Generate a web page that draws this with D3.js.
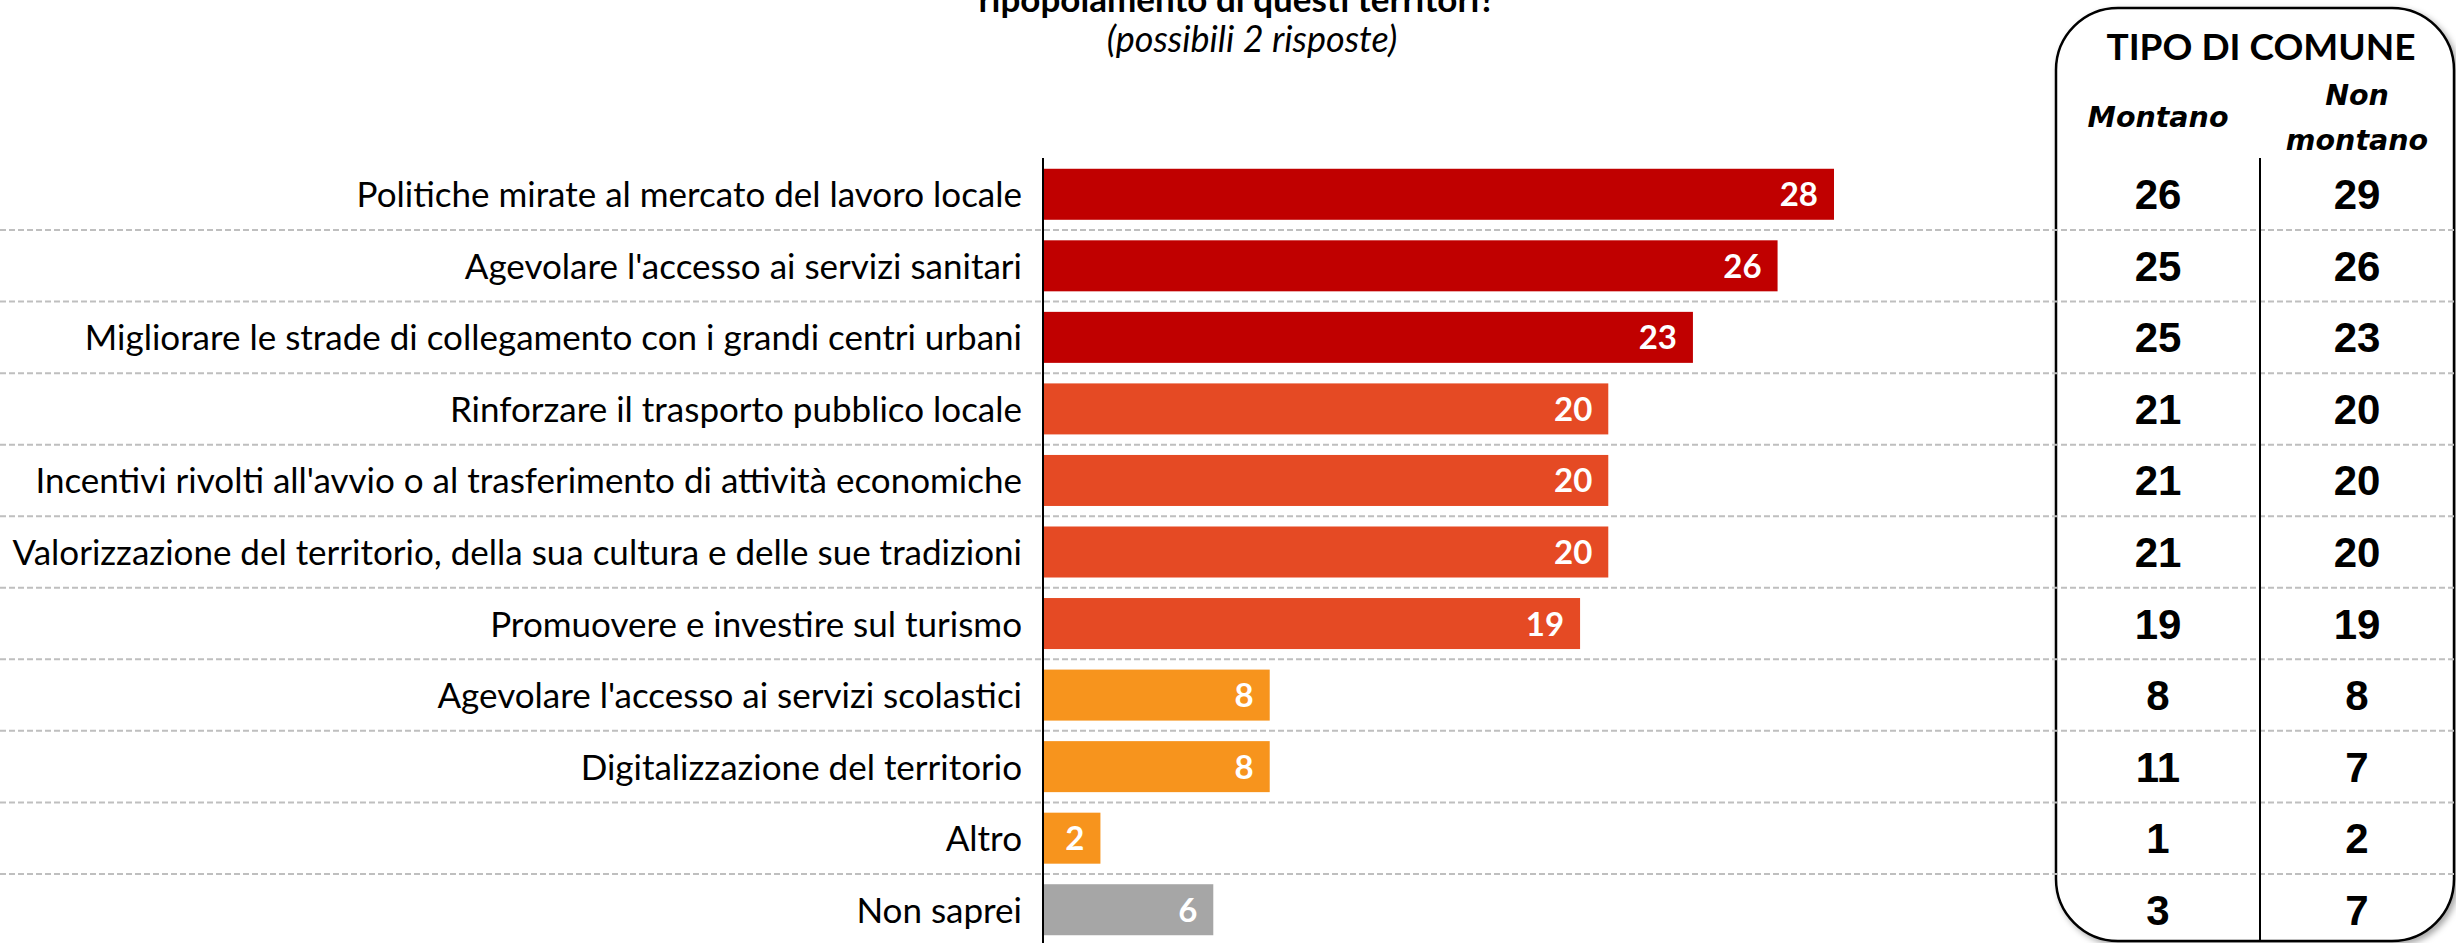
<!DOCTYPE html>
<html>
<head>
<meta charset="utf-8">
<script src="https://cdn.jsdelivr.net/npm/d3@7"></script>
<style>
    body { margin: 0; background: #fff; }
    svg { display: block; }
    .label { font-family: Lato, sans-serif; font-size: 35px; fill: #000; }
    .value { font-family: Lato, sans-serif; font-weight: bold; font-size: 33px; fill: #fff; }
    .cell { font-family: "Liberation Sans", Arial, sans-serif; font-weight: bold; font-size: 42px; fill: #000; }
    .colhead { font-family: "DejaVu Sans", sans-serif; font-weight: bold; font-style: italic; font-size: 28.5px; fill: #000; }
</style>
</head>
<body>
<svg id="chart" width="2456" height="943"></svg>
<script>

// answers, overall % (possibili 2 risposte)
let categories = [
    "Politiche mirate al mercato del lavoro locale",
    "Agevolare l'accesso ai servizi sanitari",
    "Migliorare le strade di collegamento con i grandi centri urbani",
    "Rinforzare il trasporto pubblico locale",
    "Incentivi rivolti all'avvio o al trasferimento di attività economiche",
    "Valorizzazione del territorio, della sua cultura e delle sue tradizioni",
    "Promuovere e investire sul turismo",
    "Agevolare l'accesso ai servizi scolastici",
    "Digitalizzazione del territorio",
    "Altro",
    "Non saprei"
];
let totals = [28, 26, 23, 20, 20, 20, 19, 8, 8, 2, 6];
// colour group of each bar
let tiers = ["top", "top", "top", "mid", "mid", "mid", "mid", "low", "low", "low", "ns"];

// TIPO DI COMUNE
let montano = [26, 25, 25, 21, 21, 21, 19, 8, 11, 1, 3];
let nonMontano = [29, 26, 23, 20, 20, 20, 19, 8, 7, 2, 7];

let titleLine = "ripopolamento di questi territori?";
let subtitle = "(possibili 2 risposte)";

class BarChart{

    constructor(svg)
    {
        this.svg = svg;
        this.width = 2456;
        this.height = 943;

        this.x = d3.scaleLinear()
            .domain([0, 28])
            .range([1044, 1834]);

        this.y = d3.scaleBand()
            .domain(categories)
            .range([158.5, 945.5])
            .paddingInner(0.287)
            .paddingOuter(0.1435);

        this.color = d3.scaleOrdinal()
            .domain(["top", "mid", "low", "ns"])
            .range(["#c00000", "#e54a24", "#f7941d", "#a6a6a6"]);
    }

    drawTable()
    {
        let defs = this.svg.append("defs");
        let f = defs.append("filter").attr("id", "shadow")
            .attr("x", "-10%").attr("y", "-10%").attr("width", "130%").attr("height", "130%");
        f.append("feDropShadow")
            .attr("dx", 3).attr("dy", 3)
            .attr("stdDeviation", 3)
            .attr("flood-color", "#000")
            .attr("flood-opacity", 0.35);

        this.svg.append("rect")
            .attr("x", 2056).attr("y", 8)
            .attr("width", 398).attr("height", 933)
            .attr("rx", 62).attr("ry", 62)
            .style("fill", "#fff")
            .style("stroke", "#000")
            .style("stroke-width", 2.5)
            .attr("filter", "url(#shadow)");
    }

    drawGrid()
    {
        // dashed separators between rows, full width
        let bounds = categories.slice(1).map(c => this.y(c) - this.y.step() * this.y.paddingInner() / 2);

        this.svg.append("g").selectAll("line")
            .data(bounds)
            .enter()
            .append("line")
            .attr("x1", 0).attr("x2", this.width)
            .attr("y1", d => d).attr("y2", d => d)
            .style("stroke", "#bfbfbf")
            .style("stroke-width", 2)
            .style("stroke-dasharray", "6,3");

        // column divider in the table
        this.svg.append("line")
            .attr("x1", 2260).attr("x2", 2260)
            .attr("y1", 158).attr("y2", 941)
            .style("stroke", "#000")
            .style("stroke-width", 2);
    }

    drawBars()
    {
        let rows = categories.map((c, i) => ({name: c, value: totals[i], tier: tiers[i]}));

        let g = this.svg.append("g");

        g.selectAll("rect")
            .data(rows)
            .enter()
            .append("rect")
            .attr("x", this.x(0))
            .attr("y", d => this.y(d.name))
            .attr("width", d => this.x(d.value) - this.x(0))
            .attr("height", this.y.bandwidth())
            .style("fill", d => this.color(d.tier));

        g.selectAll("text.value")
            .data(rows)
            .enter()
            .append("text")
            .attr("class", "value")
            .attr("x", d => this.x(d.value) - 16)
            .attr("y", d => this.y(d.name) + this.y.bandwidth() / 2 + 12)
            .attr("text-anchor", "end")
            .text(d => d.value);

        // category labels
        this.svg.append("g").selectAll("text")
            .data(rows)
            .enter()
            .append("text")
            .attr("class", "label")
            .attr("x", 1022)
            .attr("y", d => this.y(d.name) + this.y.bandwidth() / 2 + 13)
            .attr("text-anchor", "end")
            .text(d => d.name);

        // y axis line
        this.svg.append("line")
            .attr("x1", 1043).attr("x2", 1043)
            .attr("y1", 158).attr("y2", this.height)
            .style("stroke", "#000")
            .style("stroke-width", 2);
    }

    drawTableText()
    {
        let cols = [
            {cx: 2158, values: montano},
            {cx: 2357, values: nonMontano}
        ];

        this.svg.append("text")
            .attr("x", 2261).attr("y", 60)
            .attr("text-anchor", "middle")
            .style("font-family", "Lato, sans-serif")
            .style("font-weight", "bold")
            .style("font-size", "37px")
            .text("TIPO DI COMUNE");

        this.svg.append("text").attr("class", "colhead")
            .attr("x", 2158).attr("y", 127)
            .attr("text-anchor", "middle")
            .text("Montano");
        this.svg.append("text").attr("class", "colhead")
            .attr("x", 2357).attr("y", 105)
            .attr("text-anchor", "middle")
            .text("Non");
        this.svg.append("text").attr("class", "colhead")
            .attr("x", 2357).attr("y", 150)
            .attr("text-anchor", "middle")
            .text("montano");

        cols.forEach(col => {
            this.svg.append("g").selectAll("text")
                .data(col.values)
                .enter()
                .append("text")
                .attr("class", "cell")
                .attr("x", col.cx)
                .attr("y", (d, i) => this.y(categories[i]) + this.y.bandwidth() / 2 + 15)
                .attr("text-anchor", "middle")
                .text(d => d);
        });
    }

    drawTitle()
    {
        // first lines of the question are outside the picture, only the last one peeks in
        this.svg.append("text")
            .attr("x", 1237).attr("y", 12)
            .attr("text-anchor", "middle")
            .style("font-family", "Lato, sans-serif")
            .style("font-weight", "bold")
            .style("font-size", "35px")
            .text(titleLine);

        this.svg.append("text")
            .attr("x", 1252).attr("y", 52)
            .attr("text-anchor", "middle")
            .style("font-family", "Lato, sans-serif")
            .style("font-style", "italic")
            .style("font-size", "36px")
            .text(subtitle);
    }

    draw()
    {
        this.drawTable();
        this.drawTitle();
        this.drawBars();
        this.drawGrid();
        this.drawTableText();
    }
}

let chart = new BarChart(d3.select("#chart"));
chart.draw();
</script>
</body>
</html>
